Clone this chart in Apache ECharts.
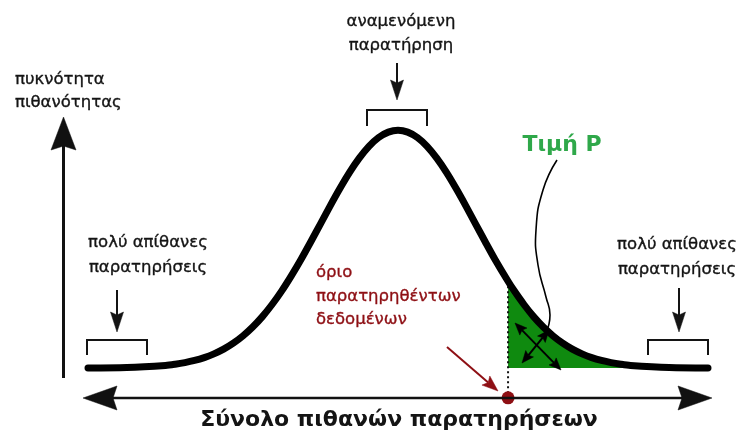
<!DOCTYPE html>
<html>
<head>
<meta charset="utf-8">
<script src="https://cdn.jsdelivr.net/npm/echarts@6/dist/echarts.min.js"></script>
<style>
  html, body { margin: 0; padding: 0; background: #ffffff; }
  #chart { width: 742px; height: 435px; }
</style>
</head>
<body>
<div id="chart"></div>
<script>
// Standardised observation values (x) and the probability density drawn over them
const xValues = [-4, -3.5, -3, -2.875, -2.75, -2.625, -2.5, -2.375, -2.25, -2.125, -2, -1.875, -1.75, -1.625, -1.5,
                 -1.375, -1.25, -1.125, -1, -0.875, -0.75, -0.625, -0.5, -0.375, -0.25, -0.125, 0,
                 0.125, 0.25, 0.375, 0.5, 0.625, 0.75, 0.875, 1, 1.125, 1.25, 1.42, 1.5, 1.625, 1.75, 1.875,
                 2, 2.125, 2.25, 2.375, 2.5, 2.625, 2.75, 2.875, 3, 3.5, 4];
const density = [0.0001, 0.0009, 0.0044, 0.0064, 0.0091, 0.0127, 0.0175, 0.0238, 0.0317, 0.0417, 0.054, 0.0688, 0.0863, 0.1066, 0.1295,
                 0.1551, 0.1826, 0.2119, 0.242, 0.2721, 0.3011, 0.3282, 0.3521, 0.3719, 0.3867, 0.3958, 0.3989,
                 0.3958, 0.3867, 0.3719, 0.3521, 0.3282, 0.3011, 0.2721, 0.242, 0.2119, 0.1826, 0.1456, 0.1295, 0.1066, 0.0863, 0.0688,
                 0.054, 0.0417, 0.0317, 0.0238, 0.0175, 0.0127, 0.0091, 0.0064, 0.0044, 0.0009, 0.0001];

// Observed data boundary and the level of the horizontal observation axis
const observedValue = 1.42;
const axisLevel = -0.05;

// Texts
const yAxisLabel = ['πυκνότητα', 'πιθανότητας'];
const xAxisLabel = 'Σύνολο πιθανών παρατηρήσεων';
const expectedLabel = ['αναμενόμενη', 'παρατήρηση'];
const unlikelyLabel = ['πολύ απίθανες', 'παρατηρήσεις'];
const boundaryLabel = ['όριο', 'παρατηρηθέντων', 'δεδομένων'];
const pValueLabel = 'Τιμή P';

const curveData = xValues.map((x, i) => [x, density[i]]);
const tailData = curveData.filter(p => p[0] >= observedValue);
const observedDensity = density[xValues.indexOf(observedValue)];

const FONT = 'DejaVu Sans';
const INK = '#141414';
const RED = '#8e0f14';

// Straight arrow with filled, slightly notched heads
function arrow(x1, y1, x2, y2, o) {
  const L = o.len, W = o.wid, notch = o.notch || 0, both = !!o.both;
  const dx = x2 - x1, dy = y2 - y1, d = Math.hypot(dx, dy);
  const ux = dx / d, uy = dy / d, nx = -uy, ny = ux;
  function head(tx, ty, sx, sy) {
    const bx = tx - sx * L, by = ty - sy * L;
    return {
      type: 'polygon', z: o.z || 50,
      shape: { points: [[tx, ty], [bx + nx * W / 2, by + ny * W / 2],
                        [tx - sx * (L - notch), ty - sy * (L - notch)],
                        [bx - nx * W / 2, by - ny * W / 2]] },
      style: { fill: o.color, stroke: o.color, lineWidth: 0.5 }
    };
  }
  const sx0 = both ? x1 + ux * (L - notch) : x1, sy0 = both ? y1 + uy * (L - notch) : y1;
  const ex = x2 - ux * (L - notch), ey = y2 - uy * (L - notch);
  const els = [{
    type: 'line', z: o.z || 50,
    shape: { x1: sx0, y1: sy0, x2: ex, y2: ey },
    style: { stroke: o.color, lineWidth: o.lw }
  }, head(x2, y2, ux, uy)];
  if (both) els.push(head(x1, y1, -ux, -uy));
  return els;
}

function bracket(x1, x2, yTop, yBot) {
  return {
    type: 'polyline', z: 50,
    shape: { points: [[x1, yBot], [x1, yTop], [x2, yTop], [x2, yBot]] },
    style: { stroke: INK, lineWidth: 2, fill: null }
  };
}

function text(str, x, y, o) {
  const color = o.color || INK;
  return {
    type: 'text', z: 60, x: x, y: y,
    style: {
      text: str, fill: color,
      stroke: o.weight ? null : color, lineWidth: o.weight ? 0 : 0.35,
      font: (o.weight || 'normal') + ' ' + (o.size || 16.5) + 'px "' + FONT + '"',
      align: o.align || 'left', verticalAlign: 'middle'
    }
  };
}

const graphics = [].concat(
  // vertical density axis
  arrow(63.5, 378, 63.5, 117, { len: 33, wid: 25, notch: 4, lw: 3, color: '#111' }),
  // horizontal observation axis
  arrow(83, 398, 712, 398, { len: 34, wid: 24, notch: 4, lw: 2.5, color: '#111', both: true }),
  // brackets and their pointers
  bracket(87, 147, 340, 355),
  bracket(648, 708, 340, 355),
  bracket(367, 427, 110, 126),
  arrow(117, 290, 117, 332, { len: 20, wid: 13, notch: 3, lw: 2, color: INK }),
  arrow(679, 288, 679, 332, { len: 20, wid: 13, notch: 3, lw: 2, color: INK }),
  arrow(397, 63, 397, 100, { len: 20, wid: 13, notch: 3, lw: 2, color: INK }),
  // pointer to the observed data boundary
  arrow(447, 347, 498, 391, { len: 16, wid: 12, notch: 3, lw: 2, color: RED }),
  // crossed arrows inside the tail area
  arrow(515, 323, 561, 370, { len: 12, wid: 10, notch: 2, lw: 2, color: '#000', both: true, z: 70 }),
  arrow(549, 330, 522, 363, { len: 12, wid: 10, notch: 2, lw: 2, color: '#000', both: true, z: 70 }),
  [{
    type: 'polyline', z: 70,
    shape: { points: [[557, 160], [543, 190], [536, 230], [538, 265], [546, 297], [550, 315], [546, 333]], smooth: 0.5 },
    style: { stroke: '#000', lineWidth: 1.6, fill: null }
  }],
  // labels
  [
    text(yAxisLabel[0], 15, 80, {}),
    text(yAxisLabel[1], 15, 103, {}),
    text(expectedLabel[0], 401, 22, { align: 'center' }),
    text(expectedLabel[1], 401, 46, { align: 'center' }),
    text(unlikelyLabel[0], 148, 243, { align: 'center' }),
    text(unlikelyLabel[1], 148, 268, { align: 'center' }),
    text(unlikelyLabel[0], 677, 245, { align: 'center' }),
    text(unlikelyLabel[1], 677, 270, { align: 'center' }),
    text(boundaryLabel[0], 316, 273, { color: RED }),
    text(boundaryLabel[1], 316, 297, { color: RED }),
    text(boundaryLabel[2], 316, 320, { color: RED }),
    text(pValueLabel, 562, 145, { color: '#2fa84a', weight: 'bold', size: 22, align: 'center' }),
    text(xAxisLabel, 399, 420, { weight: 'bold', size: 22, align: 'center' })
  ]
);

const chart = echarts.init(document.getElementById('chart'), null, { renderer: 'canvas' });
chart.setOption({
  animation: false,
  backgroundColor: '#ffffff',
  grid: { left: 57, right: 3, top: 99.8, bottom: 31.2 },
  xAxis: { type: 'value', min: -4.4, max: 4.4, show: false },
  yAxis: { type: 'value', min: -0.06, max: 0.45, show: false },
  series: [
    {
      // P-value tail area
      type: 'line', data: tailData, smooth: 0.3,
      symbol: 'none', z: 2,
      lineStyle: { width: 0 },
      areaStyle: { color: '#0f8a0f', opacity: 1 }
    },
    {
      // observed boundary
      type: 'line', data: [[observedValue, observedDensity], [observedValue, axisLevel]],
      symbol: 'none', z: 3,
      lineStyle: { color: '#111', width: 2, type: [2, 3] }
    },
    {
      // density curve
      type: 'line', data: curveData, smooth: 0.3,
      symbol: 'none', z: 4,
      lineStyle: { color: '#000', width: 7, cap: 'round', join: 'round' }
    },
    {
      type: 'scatter', data: [[observedValue, axisLevel]], symbolSize: 13, z: 5,
      itemStyle: { color: RED, opacity: 1 }
    }
  ],
  graphic: { elements: graphics }
});
</script>
</body>
</html>
